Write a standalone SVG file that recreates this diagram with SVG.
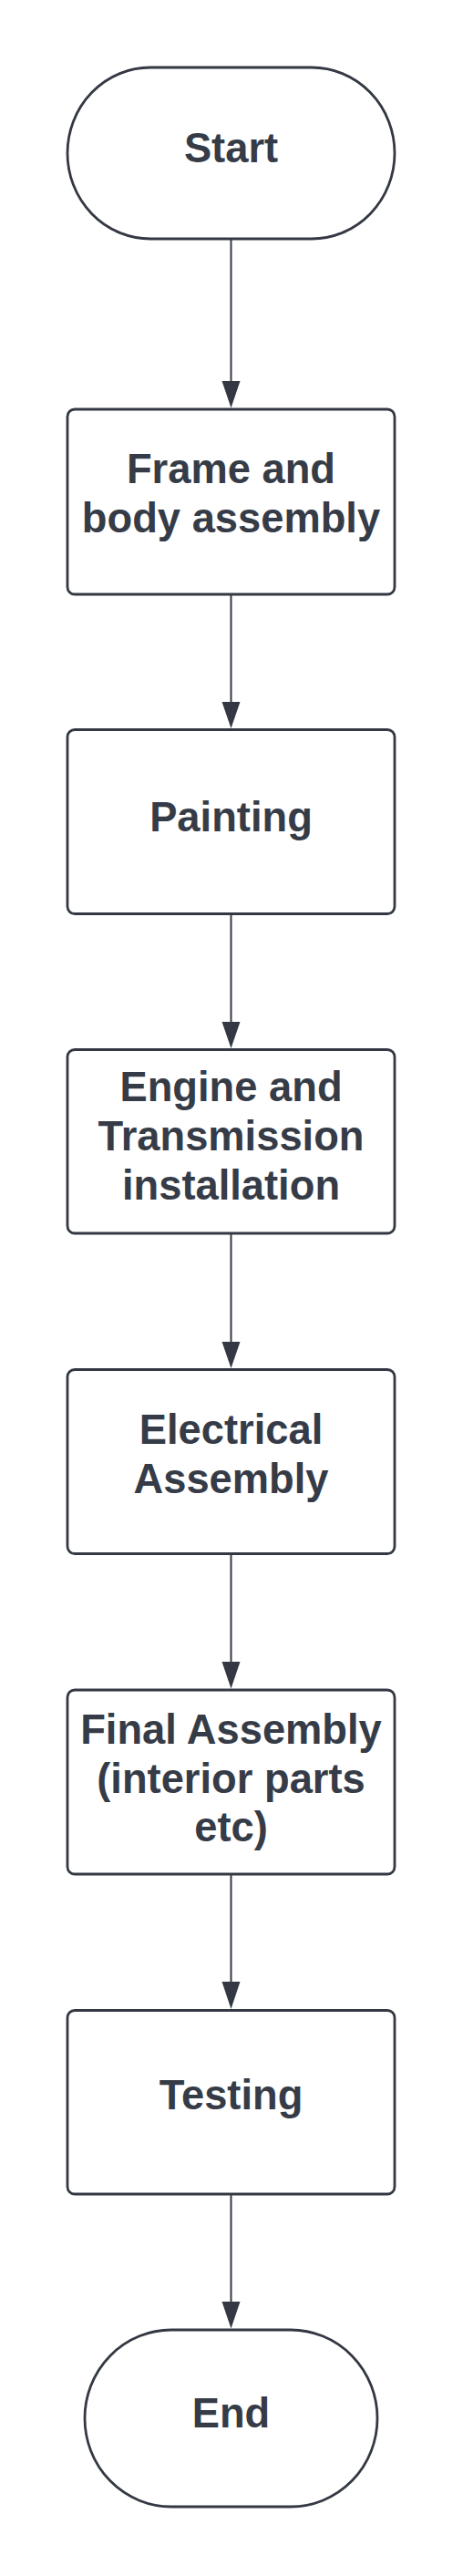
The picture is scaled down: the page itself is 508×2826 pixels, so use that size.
<svg xmlns="http://www.w3.org/2000/svg" width="508" height="2826" viewBox="0 0 508 2826">
<style>
.shape{fill:#ffffff;stroke:#333842;stroke-width:2.8}
.lbl{font-family:"Liberation Sans",Arial,sans-serif;font-weight:bold;font-size:45.3px;fill:#363c47;text-anchor:middle}
.conn{stroke:#333842;stroke-width:2;fill:none}
.head{fill:#333842}
</style>
<rect width="508" height="2826" fill="#ffffff"/>
<g id="connectors">
<line class="conn" x1="253.5" y1="262" x2="253.5" y2="420"/>
<polygon class="head" points="243.5,418 263.5,418 253.5,447.5"/>
<line class="conn" x1="253.5" y1="652" x2="253.5" y2="771"/>
<polygon class="head" points="243.5,770 263.5,770 253.5,799"/>
<line class="conn" x1="253.5" y1="1002" x2="253.5" y2="1122"/>
<polygon class="head" points="243.5,1121 263.5,1121 253.5,1150"/>
<line class="conn" x1="253.5" y1="1353" x2="253.5" y2="1473"/>
<polygon class="head" points="243.5,1472 263.5,1472 253.5,1501"/>
<line class="conn" x1="253.5" y1="1704" x2="253.5" y2="1824"/>
<polygon class="head" points="243.5,1823 263.5,1823 253.5,1852.5"/>
<line class="conn" x1="253.5" y1="2056" x2="253.5" y2="2175"/>
<polygon class="head" points="243.5,2174 263.5,2174 253.5,2204"/>
<line class="conn" x1="253.5" y1="2407" x2="253.5" y2="2526"/>
<polygon class="head" points="243.5,2525 263.5,2525 253.5,2554.5"/>
</g>
<g id="start">
<rect class="shape" x="74" y="74" width="359" height="188" rx="91" ry="94"/>
<text class="lbl" x="253.5" y="178">Start</text>
</g>
<g id="frame">
<rect class="shape" x="74" y="449" width="359" height="203" rx="8"/>
<text class="lbl" x="253.5" y="530">Frame and</text>
<text class="lbl" x="253.5" y="584">body assembly</text>
</g>
<g id="painting">
<rect class="shape" x="74" y="800.5" width="359" height="202" rx="8"/>
<text class="lbl" x="253.5" y="912">Painting</text>
</g>
<g id="engine">
<rect class="shape" x="74" y="1151.5" width="359" height="201.5" rx="8"/>
<text class="lbl" x="253.5" y="1208">Engine and</text>
<text class="lbl" x="253.5" y="1262">Transmission</text>
<text class="lbl" x="253.5" y="1316">installation</text>
</g>
<g id="electrical">
<rect class="shape" x="74" y="1502.5" width="359" height="202" rx="8"/>
<text class="lbl" x="253.5" y="1584">Electrical</text>
<text class="lbl" x="253.5" y="1638">Assembly</text>
</g>
<g id="final">
<rect class="shape" x="74" y="1854" width="359" height="202" rx="8"/>
<text class="lbl" x="253.5" y="1913">Final Assembly</text>
<text class="lbl" x="253.5" y="1967">(interior parts</text>
<text class="lbl" x="253.5" y="2020">etc)</text>
</g>
<g id="testing">
<rect class="shape" x="74" y="2205.5" width="359" height="201.5" rx="8"/>
<text class="lbl" x="253.5" y="2314">Testing</text>
</g>
<g id="end">
<rect class="shape" x="93" y="2556" width="321" height="194" rx="95" ry="97"/>
<text class="lbl" x="253.5" y="2663">End</text>
</g>
</svg>
